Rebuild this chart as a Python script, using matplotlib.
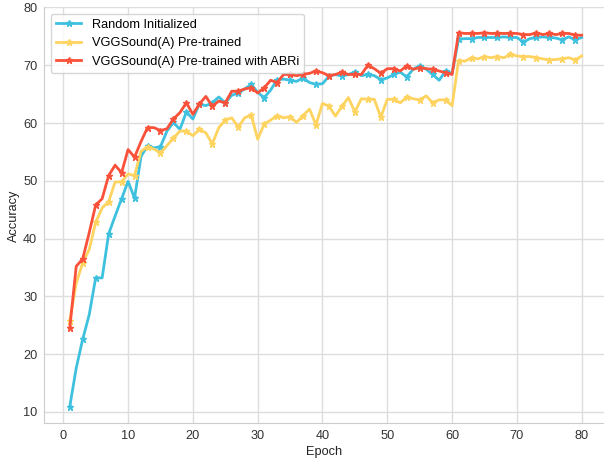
import numpy as np
import matplotlib.pyplot as plt

epochs = np.arange(1, 81)

random_init = [
    10.9, 17.6, 22.6, 26.8, 33.2, 33.2, 40.8, 43.9, 46.9, 49.9,
    47.0, 54.2, 56.1, 55.7, 55.9, 58.6, 60.1, 58.9, 61.9, 60.7,
    63.3, 63.0, 63.5, 64.5, 63.5, 64.8, 65.2, 65.9, 66.7, 65.3,
    64.4, 65.7, 67.5, 67.6, 67.4, 67.2, 67.8, 67.0, 66.7, 66.8,
    68.1, 68.4, 68.1, 68.4, 68.8, 68.2, 68.4, 68.2, 67.5, 67.8,
    68.4, 68.8, 68.0, 69.3, 69.9, 69.3, 68.4, 67.4, 69.0, 68.6,
    74.5, 74.6, 74.6, 74.8, 74.8, 74.8, 74.8, 74.9, 74.8, 74.8,
    74.0, 74.6, 74.8, 74.9, 74.8, 74.7, 74.4, 74.9, 74.4, 74.8,
]

vgg_pretrained = [
    25.8, 32.3, 35.8, 38.1, 42.8, 45.3, 46.4, 49.8, 49.8, 51.2,
    50.9, 55.1, 55.9, 55.5, 54.8, 56.1, 57.4, 58.6, 58.6, 57.8,
    58.9, 58.3, 56.4, 59.2, 60.5, 60.9, 59.3, 60.9, 61.4, 57.2,
    59.8, 60.5, 61.3, 60.9, 61.1, 60.1, 61.3, 62.4, 59.7, 63.4,
    62.9, 61.2, 62.9, 64.4, 61.9, 64.2, 64.1, 64.1, 61.0, 64.1,
    64.1, 63.5, 64.5, 64.2, 64.0, 64.7, 63.5, 64.0, 64.0, 63.0,
    70.8, 70.7, 71.3, 71.1, 71.5, 71.3, 71.5, 71.3, 71.9, 71.6,
    71.5, 71.5, 71.3, 71.1, 70.9, 71.0, 71.1, 71.3, 70.9, 71.6,
]

vgg_abri = [
    24.5, 35.2, 36.5, 41.0, 45.8, 46.9, 50.9, 52.7, 51.4, 55.4,
    54.1, 56.8, 59.2, 59.2, 58.7, 59.0, 60.7, 61.8, 63.5, 61.5,
    63.3, 64.6, 62.9, 63.8, 63.5, 65.5, 65.5, 65.9, 66.1, 65.2,
    66.1, 67.4, 67.0, 68.4, 68.4, 68.2, 68.4, 68.6, 69.0, 68.7,
    68.2, 68.4, 68.8, 68.4, 68.4, 68.4, 70.0, 69.4, 68.6, 69.4,
    69.4, 69.0, 69.9, 69.3, 69.6, 69.4, 69.3, 69.0, 68.7, 68.4,
    75.6, 75.5, 75.5, 75.5, 75.6, 75.5, 75.5, 75.5, 75.5, 75.5,
    75.3, 75.3, 75.6, 75.3, 75.5, 75.3, 75.5, 75.5, 75.2, 75.2,
]

labels = ['Random Initialized', 'VGGSound(A) Pre-trained', 'VGGSound(A) Pre-trained with ABRi']
colors = ['#3ec1de', '#fed35f', '#f9513a']

plt.rcParams['font.family'] = ['Liberation Sans', 'DejaVu Sans']
plt.rcParams['font.size'] = 9.2

fig = plt.figure(figsize=(6.04, 4.59), dpi=100)
ax = fig.add_axes([0.0733, 0.0778, 0.9267, 0.906])

for series, lab, col in zip([random_init, vgg_pretrained, vgg_abri], labels, colors):
    ax.plot(epochs, series, color=col, label=lab, linewidth=2,
            marker='*', markersize=5, markevery=2)

ax.set_xlim(-2.93, 83.44)
ax.set_ylim(8.04, 80)
ax.set_xticks(np.arange(0, 81, 10))
ax.set_yticks(np.arange(10, 81, 10))
ax.grid(True, color='#dddddd', linewidth=1)
ax.set_axisbelow(True)
for side in ['top', 'right']:
    ax.spines[side].set_visible(False)
for side in ['left', 'bottom']:
    ax.spines[side].set_color('#cccccc')
ax.tick_params(length=0, pad=5, colors='#333333', labelsize=9.2)

ax.set_xlabel('Epoch', fontsize=9.2, labelpad=3, color='#222222')
ax.set_ylabel('Accuracy', fontsize=9.2, labelpad=2.5, color='#222222')

leg = ax.legend(loc='upper left', fontsize=9.2, frameon=True, borderaxespad=0.5)
leg.get_frame().set_edgecolor('#cccccc')

fig.savefig('out.png', dpi=100)
